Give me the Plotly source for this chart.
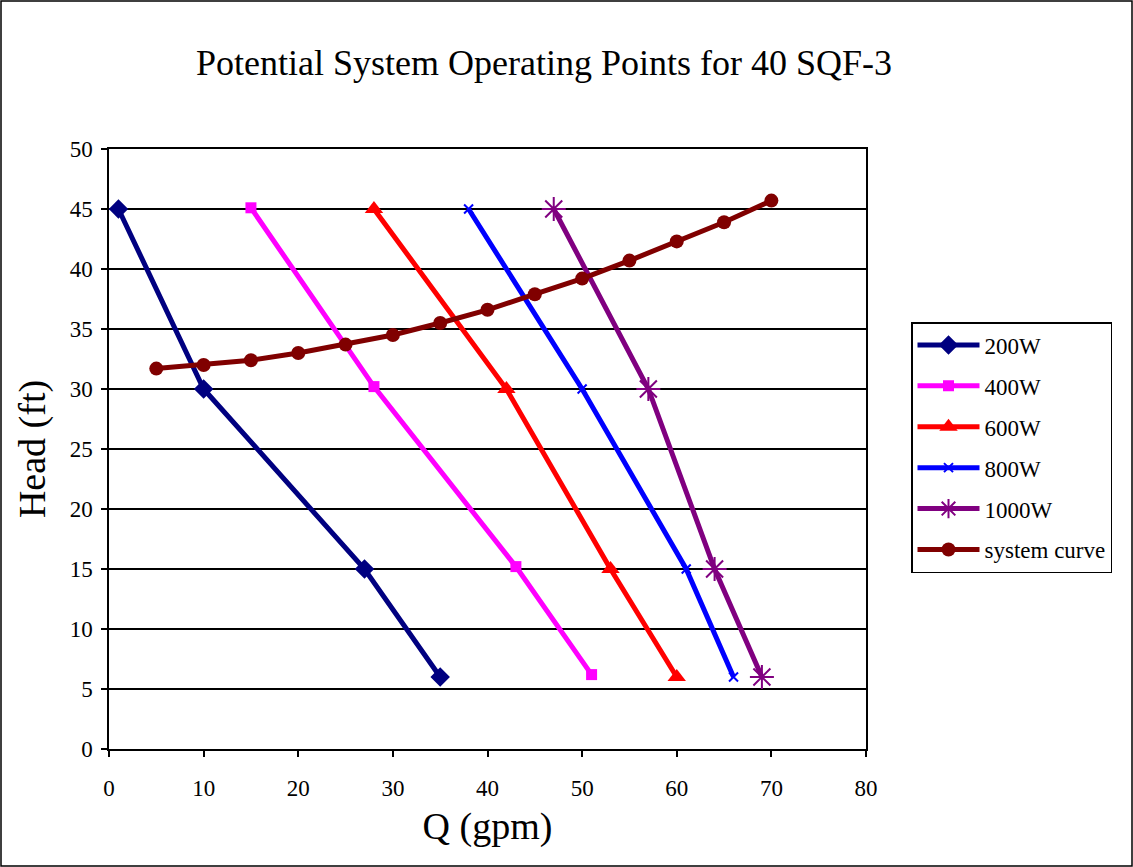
import plotly.graph_objects as go

q200 = [1, 10, 27, 35]
h200 = [45, 30, 15, 6]
q400 = [15, 28, 43, 51]
h400 = [45.1, 30.2, 15.2, 6.2]
q600 = [28, 42, 53, 60]
h600 = [45, 30, 15, 6]
q800 = [38, 50, 61, 66]
h800 = [45, 30, 15, 6]
q1000 = [47, 57, 64, 69]
h1000 = [45, 30, 15, 6]
q_sys = [5, 10, 15, 20, 25, 30, 35, 40, 45, 50, 55, 60, 65, 70]
h_sys = [31.7, 32.0, 32.4, 33.0, 33.7, 34.5, 35.5, 36.6, 37.9, 39.2, 40.7, 42.3, 43.9, 45.7]

FONT = "Liberation Serif, Times New Roman, serif"

series = [
    ("200W", q200, h200, "#000080", dict(symbol="diamond", size=15)),
    ("400W", q400, h400, "#FF00FF", dict(symbol="square", size=11)),
    ("600W", q600, h600, "#FF0000", dict(symbol="triangle-up", size=16)),
    ("800W", q800, h800, "#0000FF", dict(symbol="x-thin-open", size=9, line=dict(width=2, color="#0000FF"))),
    ("1000W", q1000, h1000, "#800080", dict(symbol="asterisk-open", size=20, line=dict(width=2, color="#800080"))),
    ("system curve", q_sys, h_sys, "#800000", dict(symbol="circle", size=14)),
]

fig = go.Figure()
for i, (name, x, y, color, marker) in enumerate(series):
    marker = dict(marker)
    marker["color"] = color
    fig.add_trace(go.Scatter(
        x=x, y=y, name=name, mode="lines+markers",
        line=dict(color=color, width=5),
        marker=marker, legendgroup=str(i),
    ))

fig.update_layout(
    width=1133, height=867,
    margin=dict(l=109, r=267, t=149, b=118),
    paper_bgcolor="white", plot_bgcolor="white",
    font=dict(family=FONT, color="black", size=22),
    title=dict(text="Potential System Operating Points for 40 SQF-3",
               x=(544) / 1133, xanchor="center", y=1 - 62 / 867, yanchor="middle",
               font=dict(size=36, family=FONT)),
    showlegend=True,
    legend=dict(
        x=(911 - 109) / 757, xanchor="left",
        y=(749 - 322) / 600, yanchor="top",
        bordercolor="black", borderwidth=1.5,
        font=dict(size=23, family=FONT),
        tracegroupgap=8, itemwidth=62,
        bgcolor="white",
    ),
    xaxis=dict(
        range=[0, 80], tickvals=list(range(0, 81, 10)),
        showgrid=False, zeroline=False,
        showline=True, linecolor="black", linewidth=1.5, mirror=True,
        ticks="outside", ticklen=6, tickcolor="black", tickwidth=1.5,
        tickfont=dict(size=23, family=FONT), ticklabelstandoff=12,
        title=dict(text="Q (gpm)", font=dict(size=38, family=FONT), standoff=12),
    ),
    yaxis=dict(
        range=[0, 50], tickvals=list(range(0, 51, 5)),
        showgrid=True, gridcolor="black", gridwidth=1.5, zeroline=False,
        showline=True, linecolor="black", linewidth=1.5, mirror=True,
        ticks="outside", ticklen=6, tickcolor="black", tickwidth=1.5,
        tickfont=dict(size=23, family=FONT), ticklabelstandoff=4,
        title=dict(text="Head (ft)", font=dict(size=38, family=FONT), standoff=12),
    ),
)

# outer chart border
fig.add_shape(type="rect", xref="paper", yref="paper",
              x0=(1 - 109) / 757, x1=(1132 - 109) / 757,
              y0=(749 - 866) / 600, y1=(749 - 1) / 600,
              line=dict(color="black", width=1.5), layer="below")

fig.write_html("out.html")
